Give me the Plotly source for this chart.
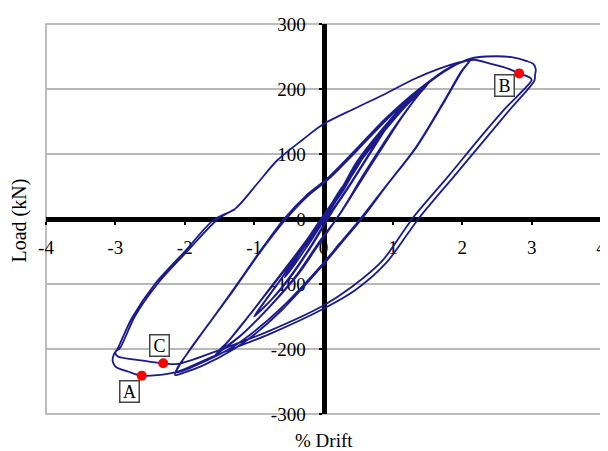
import plotly.graph_objects as go

# ---------------- data ----------------
# cycles at 0.25 % drift
drift_025 = [0.00, 0.10, 0.20, 0.27, 0.20, 0.08, -0.05, -0.16, -0.26, -0.18, -0.06, 0.00,
             0.10, 0.20, 0.28, 0.21, 0.08, -0.05, -0.16, -0.25, -0.17, -0.05, 0.02]
load_025 = [0, 20, 38, 50, 36, 14, -10, -30, -45, -30, -10, 0,
            20, 38, 51, 36, 13, -10, -30, -44, -28, -8, 3]

# cycles at 0.5 % drift
drift_05 = [0.12, 0.30, 0.45, 0.55, 0.43, 0.25, 0.08, -0.10, -0.30, -0.45, -0.56, -0.43, -0.26, -0.08,
            0.12, 0.30, 0.46, 0.56, 0.44, 0.26, 0.09, -0.10, -0.30, -0.45, -0.55, -0.42, -0.25, -0.07, 0.02]
load_05 = [22, 52, 76, 92, 71, 41, 12, -20, -52, -75, -90, -67, -40, -10,
           22, 52, 77, 93, 72, 42, 12, -20, -52, -75, -89, -66, -38, -9, 4]

# cycles at 1.0 % drift
drift_10 = [0.15, 0.40, 0.65, 0.85, 1.00, 0.86, 0.62, 0.36, 0.12, -0.15, -0.45, -0.75, -1.00, -0.86, -0.62, -0.36, -0.12,
            0.15, 0.40, 0.65, 0.86, 1.01, 0.87, 0.63, 0.37, 0.13, -0.14, -0.44, -0.74, -0.99, -0.85, -0.61, -0.35, -0.10]
load_10 = [28, 70, 108, 136, 158, 134, 94, 50, 12, -36, -84, -124, -150, -129, -94, -52, -14,
           28, 70, 108, 137, 159, 134, 94, 50, 12, -36, -84, -123, -148, -127, -92, -50, -10]

# cycles at 1.5 % drift
drift_15 = [0.25, 0.48, 0.82, 1.18, 1.54, 1.42, 1.14, 0.86, 0.56, 0.24, -0.08, -0.38, -0.78, -1.20, -1.56, -1.42, -1.14, -0.74, -0.38, 0.00,
            0.27, 0.50, 0.84, 1.19, 1.50, 1.39, 1.12, 0.84, 0.55, 0.24, -0.06, -0.36, -0.76, -1.18, -1.53, -1.40, -1.12, -0.72, -0.36, 0.02,
            0.29, 0.52, 0.86, 1.19, 1.47, 1.37, 1.10, 0.82, 0.54, 0.25, -0.05, -0.35, -0.74, -1.16, -1.50, -1.38, -1.10, -0.70, -0.34, 0.03]
load_15 = [45, 88, 135, 178, 212, 198, 158, 112, 62, 8, -38, -85, -135, -180, -209, -194, -158, -102, -52, 3,
           45, 88, 134, 176, 207, 194, 155, 110, 62, 9, -37, -84, -133, -178, -205, -191, -155, -100, -50, 4,
           45, 87, 133, 174, 203, 191, 153, 109, 62, 10, -36, -83, -131, -176, -203, -189, -152, -98, -48, 5]

# cycles at 2.0 % drift
drift_20 = [0.28, 0.55, 0.88, 1.20, 1.52, 1.80, 2.00, 2.13,
            2.00, 1.75, 1.35, 0.90, 0.55, 0.25, 0.00, -0.60, -1.00, -1.29, -1.75, -2.00, -2.14,
            -2.10, -1.95, -1.33, -0.95, -0.57, -0.25, 0.05, 0.45, 0.90, 1.38, 1.80, 2.10,
            1.98, 1.73, 1.33, 0.88, 0.53, 0.23, -0.02, -0.62, -1.02, -1.31, -1.77, -2.12,
            -2.07, -1.92, -1.30, -0.92, -0.54, -0.22, 0.08, 0.48, 0.93, 1.40, 1.82, 2.13]
load_20 = [50, 92, 137, 178, 210, 232, 242, 247,
           228, 182, 112, 50, 0, -38, -70, -140, -178, -200, -226, -236, -240,
           -228, -205, -113, -55, 0, 36, 62, 105, 155, 200, 232, 244,
           226, 180, 110, 48, 0, -38, -70, -138, -175, -197, -222, -236,
           -224, -200, -110, -52, 0, 36, 62, 105, 155, 200, 232, 247]

# cycles at 3.0 % drift
drift_30 = [2.35, 2.71, 2.93, 3.03, 3.06, 3.05,
            3.04, 2.70, 2.30, 1.90, 1.38, 0.90, 0.45, 0.00, -0.78, -1.56, -2.14, -2.62, -2.81, -3.00, -3.04, -3.02,
            -2.97, -2.76, -2.43, -2.00, -1.58, -1.27, -0.95, -0.67, -0.30, 0.00, 0.45, 0.88, 1.30, 1.66, 2.00, 2.17,
            2.40, 2.67, 2.82, 2.97, 3.00,
            2.60, 2.20, 1.80, 1.29, 0.85, 0.40, 0.00, -0.78, -1.56, -2.10, -2.31, -2.60, -2.97, -3.00,
            -2.93, -2.72, -2.38, -1.95, -1.52, -1.27]
load_30 = [250, 249, 243, 238, 230, 222,
           213, 170, 119, 68, 2, -68, -110, -138, -177, -210, -236, -241, -235, -227, -218, -208,
           -200, -152, -100, -50, -1, 16, 55, 90, 122, 146, 170, 192, 215, 231, 242, 245,
           239, 231, 224, 218, 214,
           168, 118, 66, 2, -64, -105, -133, -172, -204, -223, -222, -218, -211, -205,
           -198, -150, -98, -48, 0, 15]

# marked points
point_labels = ["A", "C", "B"]
point_drift = [-2.62, -2.31, 2.82]
point_load = [-241, -222, 224]
label_drift = [-2.79, -2.37, 2.61]
label_load = [-265, -195, 206]

x_ticks = [-4, -3, -2, -1, 0, 1, 2, 3, 4]
y_ticks = [-300, -200, -100, 0, 100, 200, 300]

# ---------------- figure ----------------
drift_all = drift_025 + drift_05 + drift_10 + drift_15 + drift_20 + drift_30
load_all = load_025 + load_05 + load_10 + load_15 + load_20 + load_30

SERIF = "Liberation Serif, Times New Roman, serif"
NAVY = "#1b1b8c"

fig = go.Figure()
fig.add_trace(go.Scatter(
    x=drift_all, y=load_all, mode="lines",
    line=dict(color=NAVY, width=1.8, shape="spline", smoothing=0.8),
    hoverinfo="skip", showlegend=False))
fig.add_trace(go.Scatter(
    x=point_drift, y=point_load, mode="markers",
    marker=dict(color="#ff0000", size=10),
    hoverinfo="skip", showlegend=False))

for t, xd, yd in zip(point_labels, label_drift, label_load):
    fig.add_annotation(x=xd, y=yd, text=t, showarrow=False,
                       font=dict(family=SERIF, size=18, color="black"),
                       bgcolor="white", bordercolor="#444444", borderwidth=1.5,
                       borderpad=0, width=18, height=20)

# axis titles
fig.add_annotation(x=0.5, y=-0.067, xref="paper", yref="paper", text="% Drift",
                   xanchor="center", yanchor="middle",
                   showarrow=False, font=dict(family=SERIF, size=19, color="black"))
fig.add_annotation(x=-0.048, y=0.497, xref="paper", yref="paper", text="Load (kN)",
                   xanchor="center", yanchor="middle",
                   textangle=-90, showarrow=False,
                   font=dict(family=SERIF, size=20, color="black"))

# plot area border
fig.add_shape(type="rect", xref="paper", yref="paper", x0=0, y0=0, x1=1, y1=1,
              line=dict(color="#a8a8a8", width=1.5), layer="below")

fig.update_layout(
    width=600, height=443,
    margin=dict(l=38, r=2, t=16, b=37),
    paper_bgcolor="white", plot_bgcolor="white",
    font=dict(family=SERIF, size=19, color="black"),
    xaxis=dict(range=[-4, 4], tickvals=x_ticks, ticktext=[str(v) for v in x_ticks],
               anchor="free", position=0.5, showline=True, linecolor="black", linewidth=5,
               ticks="outside", ticklen=3, tickwidth=2, tickcolor="black",
               showgrid=False, zeroline=False, layer="below traces",
               ticklabelstandoff=6, ticklabeloverflow="allow",
               tickfont=dict(family=SERIF, size=19, color="black")),
    yaxis=dict(range=[-300, 300], tickvals=y_ticks, ticktext=[str(v) for v in y_ticks],
               anchor="free", position=0.5, showline=True, linecolor="black", linewidth=5,
               ticks="outside", ticklen=3, tickwidth=2, tickcolor="black",
               showgrid=True, gridcolor="#b8b8b8", gridwidth=1.5, zeroline=False,
               layer="below traces", ticklabelstandoff=9, ticklabeloverflow="allow",
               tickfont=dict(family=SERIF, size=19, color="black")),
)

fig.write_html("out.html")
